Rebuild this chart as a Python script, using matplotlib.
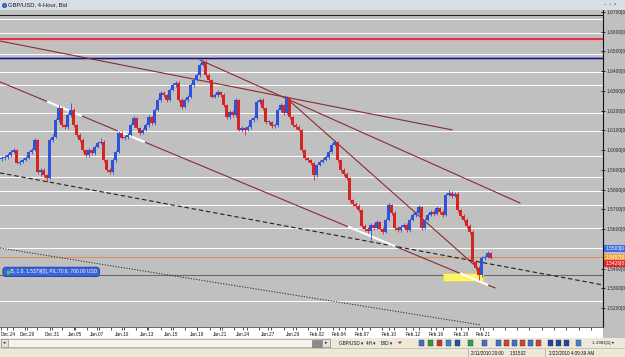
import numpy as np
import matplotlib
matplotlib.use('Agg')
import matplotlib.pyplot as plt
from matplotlib.patches import Rectangle
from matplotlib.transforms import blended_transform_factory

plt.rcParams['font.family'] = ['Liberation Sans', 'DejaVu Sans']

# ---- GBP/USD 4-hour candles ----
first_open = 1.5955
closes = [1.5961, 1.5966, 1.5976, 1.5991, 1.6001, 1.5936, 1.5941, 1.5951, 1.5961, 1.5991,
          1.6001, 1.6052, 1.5890, 1.5900, 1.5875, 1.5860, 1.6052, 1.6067, 1.6153, 1.6214,
          1.6128, 1.6118, 1.6178, 1.6204, 1.6128, 1.6077, 1.6052, 1.6001, 1.5976, 1.6001,
          1.5986, 1.6017, 1.6037, 1.6042, 1.5951, 1.5900, 1.5890, 1.5951, 1.5991, 1.6087,
          1.6062, 1.6067, 1.6077, 1.6128, 1.6163, 1.6113, 1.6087, 1.6103, 1.6128, 1.6168,
          1.6138, 1.6204, 1.6254, 1.6290, 1.6280, 1.6254, 1.6305, 1.6330, 1.6341, 1.6254,
          1.6219, 1.6254, 1.6270, 1.6330, 1.6356, 1.6381, 1.6432, 1.6447, 1.6381, 1.6356,
          1.6270, 1.6280, 1.6295, 1.6280, 1.6229, 1.6168, 1.6194, 1.6178, 1.6254, 1.6103,
          1.6113, 1.6103, 1.6118, 1.6153, 1.6163, 1.6244, 1.6254, 1.6214, 1.6143, 1.6143,
          1.6123, 1.6128, 1.6204, 1.6229, 1.6189, 1.6265, 1.6168, 1.6128, 1.6118, 1.6103,
          1.6001, 1.5961, 1.5951, 1.5936, 1.5875, 1.5925, 1.5941, 1.5951, 1.5966, 1.5991,
          1.6027, 1.6042, 1.5951, 1.5900, 1.5880, 1.5860, 1.5748, 1.5728, 1.5718, 1.5697,
          1.5617, 1.5602, 1.5591, 1.5622, 1.5607, 1.5637, 1.5602, 1.5586, 1.5647, 1.5723,
          1.5682, 1.5607, 1.5596, 1.5612, 1.5622, 1.5596, 1.5647, 1.5672, 1.5682, 1.5713,
          1.5607, 1.5647, 1.5672, 1.5687, 1.5677, 1.5708, 1.5687, 1.5672, 1.5774, 1.5784,
          1.5769, 1.5779, 1.5697, 1.5667, 1.5647, 1.5617, 1.5586, 1.5434, 1.5404, 1.5368,
          1.5455, 1.5460, 1.5480, 1.5455]
highs = [1.5972, 1.5975, 1.5985, 1.6000, 1.6012, 1.6008, 1.5950, 1.5960, 1.5969, 1.5998,
         1.6010, 1.6062, 1.6058, 1.5912, 1.5908, 1.5882, 1.6060, 1.6080, 1.6162, 1.6229,
         1.6220, 1.6135, 1.6186, 1.6239, 1.6212, 1.6135, 1.6085, 1.6060, 1.6008, 1.6010,
         1.6008, 1.6025, 1.6045, 1.6062, 1.6050, 1.5958, 1.5908, 1.5960, 1.6000, 1.6095,
         1.6095, 1.6077, 1.6088, 1.6138, 1.6172, 1.6170, 1.6120, 1.6112, 1.6136, 1.6178,
         1.6175, 1.6212, 1.6263, 1.6300, 1.6298, 1.6287, 1.6314, 1.6340, 1.6350, 1.6348,
         1.6262, 1.6262, 1.6278, 1.6338, 1.6365, 1.6392, 1.6440, 1.6457, 1.6455, 1.6390,
         1.6362, 1.6290, 1.6305, 1.6302, 1.6288, 1.6236, 1.6202, 1.6202, 1.6262, 1.6260,
         1.6122, 1.6120, 1.6126, 1.6162, 1.6172, 1.6252, 1.6264, 1.6262, 1.6220, 1.6152,
         1.6150, 1.6138, 1.6212, 1.6238, 1.6236, 1.6275, 1.6272, 1.6175, 1.6136, 1.6126,
         1.6110, 1.6008, 1.5968, 1.5958, 1.5942, 1.5932, 1.5950, 1.5960, 1.5975, 1.6000,
         1.6036, 1.6052, 1.6048, 1.5958, 1.5908, 1.5888, 1.5866, 1.5755, 1.5736, 1.5726,
         1.5704, 1.5625, 1.5610, 1.5630, 1.5630, 1.5645, 1.5644, 1.5610, 1.5656, 1.5732,
         1.5730, 1.5690, 1.5615, 1.5620, 1.5630, 1.5630, 1.5655, 1.5680, 1.5690, 1.5722,
         1.5720, 1.5655, 1.5680, 1.5695, 1.5695, 1.5716, 1.5715, 1.5695, 1.5782, 1.5799,
         1.5792, 1.5788, 1.5786, 1.5704, 1.5675, 1.5655, 1.5625, 1.5594, 1.5442, 1.5412,
         1.5462, 1.5470, 1.5490, 1.5486]
lows = [1.5946, 1.5952, 1.5958, 1.5968, 1.5984, 1.5928, 1.5925, 1.5933, 1.5944, 1.5955,
        1.5983, 1.5995, 1.5880, 1.5872, 1.5862, 1.5839, 1.5852, 1.6042, 1.6060, 1.6145,
        1.6120, 1.6105, 1.6110, 1.6170, 1.6120, 1.6068, 1.6042, 1.5992, 1.5966, 1.5968,
        1.5975, 1.5978, 1.6010, 1.6030, 1.5942, 1.5890, 1.5878, 1.5882, 1.5942, 1.5985,
        1.6055, 1.6052, 1.6058, 1.6070, 1.6120, 1.6105, 1.6078, 1.6080, 1.6095, 1.6120,
        1.6130, 1.6130, 1.6198, 1.6246, 1.6272, 1.6245, 1.6248, 1.6298, 1.6322, 1.6245,
        1.6210, 1.6212, 1.6246, 1.6262, 1.6322, 1.6348, 1.6372, 1.6425, 1.6372, 1.6346,
        1.6262, 1.6262, 1.6272, 1.6270, 1.6220, 1.6160, 1.6160, 1.6170, 1.6170, 1.6095,
        1.6092, 1.6077, 1.6095, 1.6110, 1.6145, 1.6155, 1.6236, 1.6205, 1.6135, 1.6134,
        1.6112, 1.6115, 1.6120, 1.6196, 1.6180, 1.6182, 1.6160, 1.6120, 1.6108, 1.6095,
        1.5992, 1.5952, 1.5942, 1.5926, 1.5849, 1.5866, 1.5918, 1.5934, 1.5944, 1.5958,
        1.5984, 1.6020, 1.5942, 1.5890, 1.5870, 1.5850, 1.5740, 1.5720, 1.5708, 1.5688,
        1.5608, 1.5592, 1.5580, 1.5546, 1.5598, 1.5600, 1.5594, 1.5576, 1.5580, 1.5640,
        1.5674, 1.5598, 1.5586, 1.5588, 1.5604, 1.5586, 1.5588, 1.5640, 1.5664, 1.5675,
        1.5598, 1.5600, 1.5640, 1.5665, 1.5668, 1.5670, 1.5678, 1.5664, 1.5665, 1.5766,
        1.5760, 1.5762, 1.5688, 1.5658, 1.5638, 1.5608, 1.5576, 1.5426, 1.5394, 1.5343,
        1.5360, 1.5446, 1.5452, 1.5448]

date_labels = ['Dec.24', 'Dec.29', 'Dec.31', 'Jan.05', 'Jan.07', 'Jan.10', 'Jan.13',
               'Jan.15', 'Jan.19', 'Jan.21', 'Jan.24', 'Jan.27', 'Jan.29', 'Feb.02',
               'Feb.04', 'Feb.07', 'Feb.10', 'Feb.12', 'Feb.16', 'Feb.18', 'Feb.21']
date_pos = [1.8, 8.5, 16.8, 24.5, 31.8, 40.2, 48.5, 56.5, 65.2, 72.8, 80.5, 88.8,
            97.2, 105.2, 112.5, 120.2, 129.2, 137.2, 144.8, 153.2, 160.5]

price_ticks = [1.67, 1.66, 1.65, 1.64, 1.63, 1.62, 1.61, 1.60, 1.59, 1.58,
               1.57, 1.56, 1.54, 1.53, 1.52]

# horizontal levels drawn on the chart
white_levels = [1.6663, 1.6595, 1.6489, 1.6398, 1.6330, 1.6189, 1.6097, 1.5973,
                1.5865, 1.5794, 1.5723, 1.5606, 1.5505, 1.5237]
black_level = 1.6683
red_level = 1.6562
blue_level = 1.6466
orange_level = 1.5457
entry_level = 1.5370

# trend lines: (start index, end index), (start price, end price)
trend_x = [(-0.5, 150.2), (-0.5, 164.5), (66.2, 172.8), (94.5, 160.2)]
trend_y = [(1.6553, 1.6103), (1.6346, 1.5303), (1.6457, 1.5733), (1.6270, 1.5384)]
dash_x, dash_y = (-0.5, 200.5), (1.5885, 1.5318)
dot_x, dot_y = (-0.5, 159.5), (1.5505, 1.5116)
white_spans = [(15.2, 26.8), (38.8, 47.8), (115.5, 131.2), (152.8, 162.2)]

# price markers on the right scale
marker_prices = [1.5503, 1.5457, 1.5426]
marker_colors = ['#3d6be0', '#f0a040', '#e02828']

zone_x, zone_y = (147.2, 160.5), (1.5338, 1.5379)
position_text = 'B, 1.0, 1.5379[0], P/L:70.6, 700.00 USD'
position_x, position_y = 1.2, 1.5384

W, H = 625.0, 357.0


def box(x0, y0, x1, y1):
    return [x0 / W, 1 - y1 / H, (x1 - x0) / W, (y1 - y0) / H]


fig = plt.figure(figsize=(6.25, 3.57), dpi=100, facecolor='#c0c0c0')

# ---- main chart ----
ax = fig.add_axes(box(0, 10, 603, 327))
ax.set_facecolor('#c0c0c0')
ax.set_xlim(-0.5, 200.5)
ax.set_ylim(1.5105, 1.6710)
for s in ['top', 'left', 'bottom']:
    ax.spines[s].set_visible(False)
ax.spines['right'].set_color('#101010')
ax.spines['right'].set_linewidth(0.8)
ax.set_xticks([])
ax.yaxis.tick_right()
ax.set_yticks(price_ticks)
ax.set_yticklabels(['%.4f[0' % p for p in price_ticks])
ax.tick_params(axis='y', direction='inout', length=3, width=0.6, labelsize=3.5,
               pad=0.8, labelcolor='#2a2a2a', color='#101010')

for lvl in white_levels:
    ax.axhline(lvl, color='white', lw=0.7, zorder=1)
ax.axhline(black_level, color='#222222', lw=0.8, zorder=1)
ax.axhline(red_level, color='#f0a0a8', lw=2.4, zorder=1)
ax.axhline(red_level, color='#cc1a2a', lw=1.1, zorder=1)
ax.axhline(blue_level, color='#a0a6d8', lw=2.0, zorder=1)
ax.axhline(blue_level, color='#141470', lw=1.0, zorder=1)
ax.axhline(orange_level, color='#d99060', lw=0.8, zorder=1)
ax.axhline(entry_level, color='#686868', lw=0.8, zorder=1)

ax.add_patch(Rectangle((zone_x[0], zone_y[0]), zone_x[1] - zone_x[0], zone_y[1] - zone_y[0],
                       fc='#fbf56a', ec='#e0d040', lw=0.5, zorder=2))

for xs, ys in zip(trend_x, trend_y):
    ax.plot(xs, ys, color='#8a2c30', lw=0.8, zorder=2)
for a, b in white_spans:
    seg = np.array([a, b])
    ax.plot(seg, np.interp(seg, trend_x[1], trend_y[1]), color='white', lw=1.6,
            solid_capstyle='butt', zorder=2.5)
ax.plot(dash_x, dash_y, color='#202020', lw=0.8, ls=(0, (4, 2.5)), zorder=2)
ax.plot(dot_x, dot_y, color='#202020', lw=0.7, ls=(0, (1.2, 1.6)), zorder=2)

# candles
c = np.array(closes)
o = np.array([first_open] + closes[:-1])
idx = np.arange(len(c))
col = np.where(c >= o, '#2f52d8', '#d42424')
ax.vlines(idx, lows, highs, colors=col, lw=0.6, zorder=3)
ax.bar(idx, np.maximum(np.abs(c - o), 0.00025), bottom=np.minimum(o, c), width=0.68,
       color=col, lw=0, zorder=4)

# price markers on the scale
tr = blended_transform_factory(ax.transAxes, ax.transData)
for p, fc in zip(marker_prices, marker_colors):
    ax.text(1.004, p, '%.4f[0' % p, transform=tr, fontsize=3.5, color='white',
            va='center', ha='left', clip_on=False, zorder=6,
            bbox=dict(boxstyle='square,pad=0.2', fc=fc, ec='none'))

# open position label
ax.text(position_x, position_y, '    ' + position_text, fontsize=3.5, color='white',
        va='center', ha='left', zorder=6,
        bbox=dict(boxstyle='round,pad=0.45,rounding_size=0.7', fc='#3a64d8', ec='#1c3c9c', lw=0.6))
ax.plot(position_x + 0.8, position_y, 's', ms=1.6, color='#44d444', zorder=7)

# ---- date scale ----
axb = fig.add_axes(box(0, 327, 603, 338))
axb.set_facecolor('white')
axb.set_xlim(-0.5, 200.5)
axb.set_ylim(0, 1)
axb.set_yticks([])
axb.set_xticks(date_pos)
axb.set_xticks(np.arange(-0.3, 200, 4.1), minor=True)
axb.tick_params(axis='x', which='both', direction='in', top=True, bottom=False,
                labelbottom=False, length=2.2, width=0.6, color='#333333')
for s in ['left', 'right', 'bottom']:
    axb.spines[s].set_visible(False)
axb.spines['top'].set_color('#505050')
axb.spines['top'].set_linewidth(0.6)
for p, lab in zip(date_pos[1:], date_labels[1:]):
    axb.text(p, 0.36, lab, ha='center', va='center', fontsize=3.4, color='#111111')
axb.text(-0.4, 0.36, date_labels[0], ha='left', va='center', fontsize=3.4, color='#111111')

# ---- window chrome ----
axt = fig.add_axes(box(0, 0, 625, 10))
axt.set_xlim(0, 625)
axt.set_ylim(10, 0)
axt.axis('off')
axt.add_patch(Rectangle((0, 0), 625, 10, fc='#d8dde6', ec='none'))
axt.plot([4], [4.8], 'o', ms=3.2, color='#3a6fc8', mec='#1e3f86', mew=0.4)
axt.text(8.5, 4.8, 'GBP/USD, 4-Hour, Bid', fontsize=4.2, va='center', color='#1a1a1a')
axt.text(604, 4.5, '–  ▫  ×', fontsize=3.4, va='center', color='#606060')

axs = fig.add_axes(box(0, 338, 625, 357))
axs.set_xlim(0, 625)
axs.set_ylim(357, 338)
axs.axis('off')
axs.add_patch(Rectangle((0, 338), 625, 19, fc='#ece9d8', ec='none'))
axs.add_patch(Rectangle((1, 339), 329, 8, fc='#f4f3ee', ec='#a0a0a0', lw=0.5))
axs.add_patch(Rectangle((1, 339), 7, 8, fc='#e4e2d8', ec='#909090', lw=0.5))
axs.add_patch(Rectangle((312, 339.5), 10, 7, fc='#8a8a8a', ec='#707070', lw=0.4))
axs.add_patch(Rectangle((322, 339), 8, 8, fc='#e4e2d8', ec='#909090', lw=0.5))
axs.text(4.5, 343, '◂', fontsize=3.5, ha='center', va='center', color='#333333')
axs.text(326, 343, '▸', fontsize=3.5, ha='center', va='center', color='#333333')
axs.text(339, 343.2, 'GBP/USD ▾', fontsize=3.3, va='center', color='#111111')
axs.text(366, 343.2, '4H ▾', fontsize=3.3, va='center', color='#111111')
axs.text(381, 343.2, 'BID ▾', fontsize=3.3, va='center', color='#111111')
axs.text(398, 343.2, '♦▾', fontsize=3.3, va='center', color='#cc2222')
for xi, fc in zip([419, 428, 437, 446, 455, 468, 482, 496, 504, 512, 520, 528, 536,
                   548, 556, 564, 576],
                  ['#3d6fd0', '#30a030', '#d03030', '#3c82d8', '#2050b0', '#30a050',
                   '#3d6fd0', '#4070d0', '#d04040', '#4070d0', '#d04040', '#4070d0',
                   '#d04040', '#2040b0', '#2040b0', '#2040b0', '#3d82d8']):
    axs.add_patch(Rectangle((xi, 340), 5, 5.5, fc=fc, ec='#404040', lw=0.3))
axs.text(592, 343.2, '1.1981[1] ▾', fontsize=3.2, va='center', color='#111111')
axs.plot([0, 625], [348, 348], color='#b8b4a4', lw=0.5)
axs.plot([468, 468], [349, 357], color='#a8a498', lw=0.5)
axs.plot([545, 545], [349, 357], color='#a8a498', lw=0.5)
axs.text(471, 353, '2/11/2010 20:00', fontsize=3.3, va='center', color='#111111')
axs.text(510, 353, '1.51532', fontsize=3.3, va='center', color='#111111')
axs.text(549, 353, '2/22/2010 4:09:39 AM', fontsize=3.3, va='center', color='#111111')

fig.savefig('out.png', dpi=100, facecolor=fig.get_facecolor())
